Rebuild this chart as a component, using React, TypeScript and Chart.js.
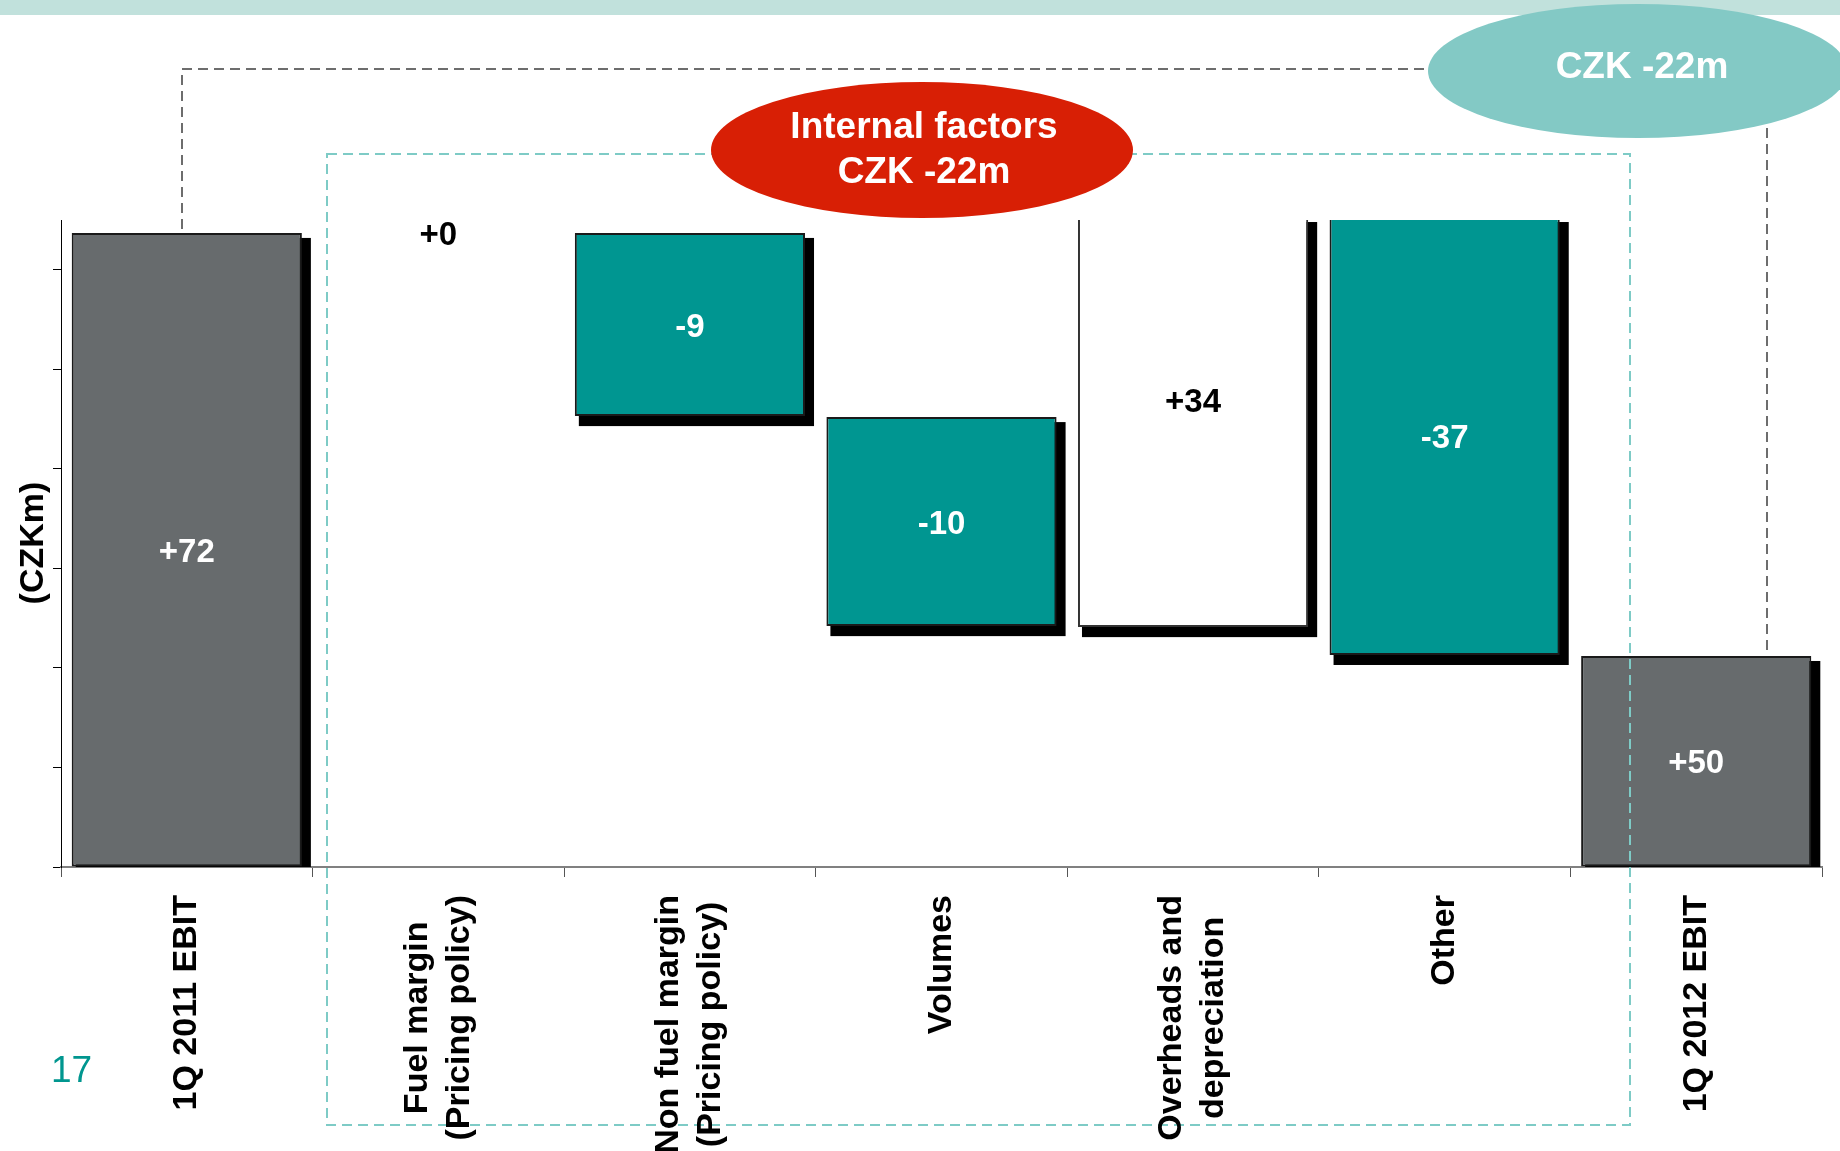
import React, { useEffect, useRef } from 'react';
import { Chart, registerables } from 'chart.js';

Chart.register(...registerables);

// ---- Data (bar extents are the display heights; the source chart is not drawn to scale) ----
const categories: (string | string[])[] = [
  '1Q 2011 EBIT',
  ['Fuel margin', '(Pricing policy)'],
  ['Non fuel margin', '(Pricing policy)'],
  'Volumes',
  ['Overheads and', 'depreciation'],
  'Other',
  '1Q 2012 EBIT',
];
const barStart = [0, 63.7, 63.7, 45.2, 24.1, 65.3, 0];
const barEnd = [63.7, 63.7, 45.3, 24.2, 65.3, 21.3, 21.2];
const valueLabels = ['+72', '+0', '-9', '-10', '+34', '-37', '+50'];
const barKinds = ['total', 'none', 'down', 'down', 'up', 'down', 'total'];
const yTickValues = [0, 10, 20, 30, 40, 50, 60];

const yAxisTitle = '(CZKm)';
const internalLines = ['Internal factors', 'CZK -22m'];
const totalChangeText = 'CZK -22m';
const pageNumber = '17';

const FONT = '"Liberation Sans", Arial, Helvetica, sans-serif';
const GRAY = '#676b6d';
const TEAL = '#009691';
const RED = '#d81f05';
const LIGHT_TEAL = '#83c9c5';

const fillFor: Record<string, string> = {
  total: GRAY,
  down: TEAL,
  up: '#ffffff',
  none: 'rgba(0,0,0,0)',
};

const decorPlugin = {
  id: 'decor',
  beforeDatasetsDraw(chart: any) {
    const { ctx, chartArea } = chart;
    const meta = chart.getDatasetMeta(0);
    ctx.save();
    ctx.beginPath();
    ctx.rect(0, 0, chart.width, chartArea.bottom);
    ctx.clip();
    ctx.fillStyle = '#000';
    meta.data.forEach((el: any, i: number) => {
      if (barKinds[i] === 'none') return;
      const p = el.getProps(['x', 'y', 'base', 'width'], true);
      const top = Math.min(p.y, p.base);
      const bottom = Math.max(p.y, p.base);
      const left = p.x - p.width / 2;
      const right = p.x + p.width / 2;
      ctx.fillRect(left + 4, top + 5, right - left + 5, bottom - top + 5);
    });
    ctx.restore();
  },
  afterDatasetsDraw(chart: any) {
    const { ctx } = chart;
    const meta = chart.getDatasetMeta(0);
    ctx.save();
    ctx.font = `bold 33px ${FONT}`;
    ctx.textAlign = 'center';
    ctx.textBaseline = 'middle';
    meta.data.forEach((el: any, i: number) => {
      const p = el.getProps(['x', 'y', 'base'], true);
      const k = barKinds[i];
      const top = Math.min(p.y, p.base);
      const bottom = Math.max(p.y, p.base);
      // open-topped (clipped) increase bar: label sits a little above its visible middle
      const frac = k === 'up' ? 0.445 : 0.5;
      ctx.fillStyle = k === 'total' || k === 'down' ? '#ffffff' : '#000000';
      ctx.fillText(valueLabels[i], p.x, top + (bottom - top) * frac + 3);
    });
    ctx.restore();
  },
  afterDraw(chart: any) {
    const { ctx } = chart;
    const xs = chart.scales.x;
    ctx.save();

    // top band
    ctx.fillStyle = '#c1e1dc';
    ctx.fillRect(0, 0, chart.width, 15);

    // teal dashed box (internal factors)
    ctx.setLineDash([10, 6]);
    ctx.lineWidth = 2;
    ctx.strokeStyle = '#7ecbc6';
    ctx.strokeRect(327, 154, 1630 - 327, 1125 - 154);

    // gray dashed connector
    ctx.strokeStyle = '#6d6d6d';
    ctx.beginPath();
    ctx.moveTo(182, 229);
    ctx.lineTo(182, 69);
    ctx.lineTo(1432, 69);
    ctx.moveTo(1767, 128);
    ctx.lineTo(1767, 652);
    ctx.stroke();
    ctx.setLineDash([]);

    // red ellipse
    ctx.fillStyle = RED;
    ctx.beginPath();
    ctx.ellipse(922, 150, 211, 68, 0, 0, Math.PI * 2);
    ctx.fill();
    ctx.fillStyle = '#ffffff';
    ctx.font = `bold 37px ${FONT}`;
    ctx.textAlign = 'center';
    ctx.textBaseline = 'alphabetic';
    ctx.fillText(internalLines[0], 924, 138);
    ctx.fillText(internalLines[1], 924, 183);

    // light teal ellipse
    ctx.fillStyle = LIGHT_TEAL;
    ctx.beginPath();
    ctx.ellipse(1638, 71, 210, 67, 0, 0, Math.PI * 2);
    ctx.fill();
    ctx.fillStyle = '#ffffff';
    ctx.fillText(totalChangeText, 1642, 78);

    // x category labels (rotated)
    ctx.font = `bold 34px ${FONT}`;
    ctx.fillStyle = '#000';
    ctx.textAlign = 'center';
    ctx.textBaseline = 'middle';
    categories.forEach((c, i) => {
      const lines = Array.isArray(c) ? c : [c];
      const cx = xs.getPixelForValue(i);
      const maxW = Math.max(...lines.map((l) => ctx.measureText(l).width));
      const along = 895 + maxW / 2;
      const lh = 42;
      lines.forEach((l, j) => {
        const lx = cx + (j - (lines.length - 1) / 2) * lh;
        ctx.save();
        ctx.translate(lx, along);
        ctx.rotate(-Math.PI / 2);
        ctx.fillText(l, 0, 0);
        ctx.restore();
      });
    });

    // y axis title
    ctx.save();
    ctx.translate(34, 543);
    ctx.rotate(-Math.PI / 2);
    ctx.fillText(yAxisTitle, 0, 0);
    ctx.restore();

    // page number
    ctx.font = `37px ${FONT}`;
    ctx.fillStyle = '#00968f';
    ctx.textAlign = 'left';
    ctx.textBaseline = 'alphabetic';
    ctx.fillText(pageNumber, 51, 1082);

    ctx.restore();
  },
};

export default function App() {
  const ref = useRef<HTMLCanvasElement | null>(null);

  useEffect(() => {
    document.body.style.margin = '0';
    const canvas = ref.current;
    if (!canvas) return;
    const chart = new Chart(canvas, {
      type: 'bar',
      data: {
        labels: categories as any,
        datasets: [
          {
            data: barStart.map((s, i) => [s, barEnd[i]]) as any,
            backgroundColor: barKinds.map((k) => fillFor[k]),
            borderColor: barKinds.map((k) => (k === 'up' ? '#333' : '#1a1a1a')),
            borderWidth: barKinds.map((k) => (k === 'none' ? 0 : 2)) as any,
            borderSkipped: ((ctx: any) => (barKinds[ctx.dataIndex] === 'up' ? 'top' : false)) as any,
            barPercentage: 0.915,
            categoryPercentage: 1,
          },
        ],
      },
      options: {
        responsive: false,
        animation: false,
        devicePixelRatio: 1,
        layout: { padding: { left: 61, top: 220, right: 18, bottom: 284 } },
        plugins: {
          legend: { display: false },
          tooltip: { enabled: false },
          title: { display: false },
        },
        scales: {
          x: {
            grid: {
              display: true,
              drawOnChartArea: false,
              drawTicks: true,
              tickLength: 10,
              color: '#555',
              lineWidth: 1,
              offset: true,
            },
            border: { display: true, color: '#808080', width: 2 },
            ticks: { display: false },
            afterFit: (s: any) => {
              s.height = 0;
            },
          },
          y: {
            min: 0,
            max: 65,
            afterBuildTicks: (s: any) => {
              s.ticks = yTickValues.map((v) => ({ value: v }));
            },
            grid: { drawOnChartArea: false, tickLength: 8, color: '#000', lineWidth: 1 },
            border: { display: true, color: '#000', width: 1 },
            ticks: { display: false },
            afterFit: (s: any) => {
              s.width = 0;
            },
          },
        },
      } as any,
      plugins: [decorPlugin],
    });
    return () => chart.destroy();
  }, []);

  return (
    <div style={{ width: 1840, height: 1151, position: 'relative', background: '#fff' }}>
      <canvas ref={ref} width={1840} height={1151} style={{ display: 'block' }} />
    </div>
  );
}
